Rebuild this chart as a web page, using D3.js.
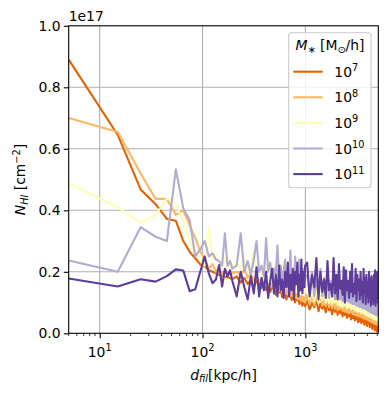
<!DOCTYPE html>
<html>
<head>
<meta charset="utf-8">
<script src="https://cdn.jsdelivr.net/npm/d3@7"></script>
<style>
  body { margin: 0; background: #fff; }
  svg text { font-family: "DejaVu Sans", sans-serif; }
</style>
</head>
<body>
<svg id="chart" width="387" height="395"></svg>
<script>
// bin centres of d_fil [kpc/h]
var dFil = d3.range(5, 200, 10).concat(d3.range(215, 1000, 20), d3.range(1040, 5100, 60));

// N_HI per stellar mass bin, units of 1e17 cm^-2
var nHI_1e7 = [
  0.89,0.645,0.468,0.42,0.372,0.366,0.30,0.265,0.244,0.224,0.218,0.205,0.20,0.195,0.19,0.187,0.184,0.182,0.18,0.176,
  0.185,0.165,0.18,0.16,0.175,0.15,0.17,0.162,0.148,0.16,0.14,0.158,0.135,0.152,0.145,0.125,0.148,0.132,0.14,0.118,
  0.138,0.125,0.11,0.132,0.12,0.128,0.108,0.122,0.115,0.1,0.12,0.108,0.112,0.095,0.115,0.102,0.09,0.11,0.098,0.088,
  0.105,0.078,0.098,0.085,0.11,0.072,0.095,0.08,0.09,0.068,0.1,0.075,0.085,0.062,0.092,0.07,
  0.082,0.06,0.088,0.065,0.075,0.055,0.08,0.06,0.072,0.05,0.078,0.055,0.066,0.045,0.07,0.05,
  0.062,0.042,0.068,0.045,0.056,0.036,0.06,0.04,0.055,0.033,0.058,0.038,0.05,0.028,0.054,0.032,
  0.048,0.024,0.05,0.03,0.044,0.02,0.046,0.025,0.04,0.015,0.042,0.02,0.036,0.01,0.038,0.012,
  0.034,0.006,0.03,0.004
];
var nHI_1e8 = [
  0.70,0.655,0.52,0.437,0.437,0.385,0.40,0.35,0.31,0.265,0.24,0.21,0.225,0.20,0.215,0.19,0.205,0.20,0.19,0.195,
  0.2,0.188,0.21,0.18,0.195,0.172,0.185,0.168,0.18,0.16,0.172,0.155,0.165,0.15,0.16,0.145,0.155,0.138,0.15,0.135,
  0.145,0.13,0.142,0.126,0.138,0.122,0.135,0.12,0.13,0.116,0.128,0.112,0.125,0.11,0.122,0.106,0.12,0.104,0.116,0.1,
  0.125,0.095,0.12,0.092,0.118,0.098,0.122,0.09,0.115,0.088,0.118,0.085,0.11,0.082,0.112,0.08,
  0.105,0.075,0.1,0.078,0.102,0.072,0.098,0.07,0.095,0.068,0.092,0.065,0.09,0.068,0.088,0.062,
  0.085,0.06,0.082,0.058,0.08,0.055,0.078,0.056,0.075,0.052,0.078,0.05,0.072,0.048,0.07,0.046,
  0.068,0.045,0.066,0.042,0.065,0.04,0.062,0.038,0.06,0.036,0.058,0.034,0.056,0.032,0.055,0.03,
  0.052,0.028,0.05,0.026
];
var nHI_1e9 = [
  0.487,0.41,0.36,0.385,0.44,0.42,0.365,0.30,0.265,0.235,0.22,0.345,0.24,0.26,0.225,0.215,0.245,0.21,0.23,0.22,
  0.23,0.21,0.245,0.2,0.22,0.265,0.2,0.23,0.19,0.215,0.2,0.24,0.185,0.205,0.19,0.22,0.175,0.2,0.17,0.23,
  0.168,0.19,0.16,0.2,0.155,0.18,0.15,0.175,0.145,0.17,0.14,0.165,0.138,0.16,0.135,0.155,0.13,0.15,0.128,0.145,
  0.14,0.11,0.135,0.105,0.145,0.1,0.13,0.108,0.135,0.1,0.128,0.098,0.132,0.095,0.125,0.1,
  0.12,0.092,0.118,0.088,0.122,0.085,0.115,0.09,0.112,0.082,0.108,0.085,0.11,0.078,0.105,0.08,
  0.102,0.075,0.1,0.072,0.098,0.07,0.095,0.072,0.092,0.065,0.09,0.068,0.088,0.062,0.085,0.06,
  0.085,0.058,0.082,0.055,0.08,0.056,0.078,0.052,0.075,0.05,0.072,0.048,0.07,0.046,0.068,0.045,
  0.066,0.042,0.065,0.04
];
var nHI_1e10 = [
  0.237,0.20,0.345,0.314,0.30,0.533,0.407,0.368,0.25,0.272,0.30,0.25,0.26,0.24,0.235,0.22,0.325,0.22,0.235,0.21,
  0.22,0.325,0.2,0.235,0.19,0.24,0.3,0.2,0.22,0.185,0.31,0.2,0.23,0.18,0.21,0.19,0.285,0.18,0.22,0.175,
  0.2,0.24,0.17,0.21,0.185,0.27,0.17,0.2,0.16,0.25,0.17,0.19,0.155,0.24,0.165,0.2,0.15,0.21,0.16,0.18,
  0.19,0.13,0.2,0.12,0.175,0.13,0.21,0.12,0.18,0.125,0.19,0.115,0.17,0.12,0.185,0.11,
  0.17,0.115,0.18,0.11,0.165,0.105,0.175,0.1,0.16,0.105,0.165,0.1,0.15,0.098,0.16,0.095,
  0.145,0.095,0.15,0.09,0.14,0.088,0.145,0.085,0.135,0.085,0.14,0.08,0.13,0.082,0.128,0.078,
  0.125,0.075,0.12,0.072,0.118,0.07,0.115,0.068,0.112,0.066,0.11,0.064,0.108,0.062,0.106,0.06,
  0.104,0.058,0.1,0.056
];
var nHI_1e11 = [
  0.178,0.152,0.176,0.168,0.186,0.208,0.204,0.137,0.143,0.20,0.25,0.195,0.163,0.175,0.222,0.152,0.21,0.185,0.205,0.17,
  0.12,0.2,0.15,0.11,0.185,0.13,0.215,0.12,0.18,0.14,0.2,0.115,0.17,0.21,0.13,0.19,0.12,0.22,0.14,0.175,
  0.115,0.2,0.15,0.23,0.12,0.19,0.14,0.21,0.11,0.2,0.16,0.23,0.12,0.19,0.14,0.24,0.13,0.2,0.15,0.22,
  0.23,0.12,0.19,0.15,0.245,0.11,0.2,0.135,0.175,0.115,0.235,0.14,0.16,0.12,0.245,0.13,
  0.19,0.11,0.225,0.145,0.17,0.125,0.215,0.1,0.205,0.14,0.17,0.115,0.2,0.135,0.225,0.12,
  0.16,0.13,0.21,0.105,0.19,0.14,0.175,0.11,0.2,0.125,0.165,0.1,0.21,0.13,0.18,0.095,
  0.19,0.12,0.165,0.1,0.2,0.115,0.175,0.09,0.185,0.11,0.16,0.095,0.19,0.105,0.205,0.09,
  0.17,0.1,0.2,0.11
];

var seriesLabels = ["7", "8", "9", "10", "11"];
var seriesColors = ["#e66101", "#fdb863", "#fffdb5", "#b2abd2", "#5e3c99"];
var seriesValues = [nHI_1e7, nHI_1e8, nHI_1e9, nHI_1e10, nHI_1e11];

var xTicks = [10, 100, 1000];
var yTicks = [0, 0.2, 0.4, 0.6, 0.8, 1.0];


var svg = d3.select("#chart");
var margin = { left: 68.7, right: 8.7, top: 25.8, bottom: 61.7 };
var W = 387, H = 395;
var x0 = margin.left, x1 = W - margin.right, y0 = H - margin.bottom, y1 = margin.top;

var x = d3.scaleLog().domain([5, 5115]).range([x0, x1]);
var y = d3.scaleLinear().domain([0, 1]).range([y0, y1]);

var FS = 13.9;

// grid
var grid = svg.append("g").attr("stroke", "#b0b0b0").attr("stroke-width", 1.1);
grid.selectAll(".gx").data(xTicks).enter().append("line")
  .attr("x1", d => x(d)).attr("x2", d => x(d)).attr("y1", y0).attr("y2", y1);
grid.selectAll(".gy").data(yTicks.slice(1, 5)).enter().append("line")
  .attr("y1", d => y(d)).attr("y2", d => y(d)).attr("x1", x0).attr("x2", x1);

// clip for the data lines
svg.append("clipPath").attr("id", "clip").append("rect")
  .attr("x", x0).attr("y", y1).attr("width", x1 - x0).attr("height", y0 - y1);

var line = d3.line().x(d => x(d[0])).y(d => y(d[1]));
var plot = svg.append("g").attr("clip-path", "url(#clip)");
seriesValues.forEach(function(vals, k) {
  var pts = dFil.map((d, i) => [d, vals[i]]).filter(p => p[1] != null);
  plot.append("path").datum(pts)
    .attr("d", line)
    .attr("fill", "none")
    .attr("stroke", seriesColors[k])
    .attr("stroke-width", 2.1)
    .attr("stroke-linejoin", "round");
});

// axes
var xAxis = d3.axisBottom(x).tickValues(xTicks).tickSize(4.9).tickFormat("");
var gx = svg.append("g").attr("transform", "translate(0," + y0 + ")").call(xAxis);
var minor = [];
[1, 10, 100, 1000].forEach(function(dec) {
  for (var m = 2; m <= 9; m++) {
    var v = dec * m;
    if (v >= 5 && v <= 5115) minor.push(v);
  }
});
gx.selectAll(".minor").data(minor).enter().append("line")
  .attr("x1", d => x(d)).attr("x2", d => x(d)).attr("y1", 0).attr("y2", 2.8)
  .attr("stroke", "#000").attr("stroke-width", 0.8);
gx.select(".domain").remove();
gx.selectAll(".tick line").attr("stroke-width", 1.1);

var yAxis = d3.axisLeft(y).tickValues(yTicks).tickSize(4.9).tickFormat(d3.format(".1f"));
var gy = svg.append("g").attr("transform", "translate(" + x0 + ",0)").call(yAxis);
gy.select(".domain").remove();
gy.selectAll(".tick line").attr("stroke-width", 1.1);
gy.selectAll(".tick text").attr("font-size", FS).attr("font-family", "DejaVu Sans").attr("fill", "#000").attr("x", -8.2);

// frame
svg.append("rect").attr("x", x0).attr("y", y1).attr("width", x1 - x0).attr("height", y0 - y1)
  .attr("fill", "none").attr("stroke", "#000").attr("stroke-width", 1.1);

// log tick labels 10^n
xTicks.forEach(function(t) {
  var txt = svg.append("text").attr("x", x(t)).attr("y", 356.5)
    .attr("text-anchor", "middle").attr("font-size", FS);
  txt.append("tspan").text("10");
  txt.append("tspan").attr("dy", -5.5).attr("font-size", FS * 0.7).text(Math.round(Math.log10(t)));
});

// offset text
svg.append("text").attr("x", x0).attr("y", 21).attr("font-size", FS).text("1e17");

// x label
var xl = svg.append("text").attr("x", (x0 + x1) / 2).attr("y", 379.5)
  .attr("text-anchor", "middle").attr("font-size", FS);
xl.append("tspan").attr("font-style", "italic").text("d");
xl.append("tspan").attr("font-style", "italic").attr("font-size", FS * 0.7).attr("dy", 2.5).text("fil");
xl.append("tspan").attr("dy", -2.5).text("[kpc/h]");

// y label
var yl = svg.append("text")
  .attr("transform", "translate(25," + ((y0 + y1) / 2) + ") rotate(-90)")
  .attr("text-anchor", "middle").attr("font-size", FS);
yl.append("tspan").attr("font-style", "italic").text("N");
yl.append("tspan").attr("font-style", "italic").attr("font-size", FS * 0.7).attr("dy", 2.5).text("HI");
yl.append("tspan").attr("dy", -2.5).text(" [cm");
yl.append("tspan").attr("font-size", FS * 0.7).attr("dy", -5.5).text("\u22122");
yl.append("tspan").attr("dy", 5.5).text("]");

// legend
var lg = svg.append("g");
lg.append("rect").attr("x", 288.7).attr("y", 32.7).attr("width", 82.3).attr("height", 155)
  .attr("rx", 3).attr("fill", "#fff").attr("fill-opacity", 0.8)
  .attr("stroke", "#cccccc").attr("stroke-width", 1.1);
var lt = lg.append("text").attr("x", 330).attr("y", 50).attr("text-anchor", "middle").attr("font-size", FS);
lt.append("tspan").attr("font-style", "italic").text("M");
lt.append("tspan").attr("font-size", FS * 0.7).attr("dy", 2.5).text("\u2217");
lt.append("tspan").attr("dy", -2.5).text("  [M");
lt.append("tspan").attr("font-size", FS * 0.7).attr("dy", 2.5).text("\u2299");
lt.append("tspan").attr("dy", -2.5).text("/h]");

seriesLabels.forEach(function(s, k) {
  var cy = 71.7 + k * 25.6;
  lg.append("line").attr("x1", 293.3).attr("x2", 322.7).attr("y1", cy).attr("y2", cy)
    .attr("stroke", seriesColors[k]).attr("stroke-width", 2.1);
  var t = lg.append("text").attr("x", 334.3).attr("y", cy + 5).attr("font-size", FS);
  t.append("tspan").text("10");
  t.append("tspan").attr("dy", -5.5).attr("font-size", FS * 0.7).text(s);
});
</script>
</body>
</html>
